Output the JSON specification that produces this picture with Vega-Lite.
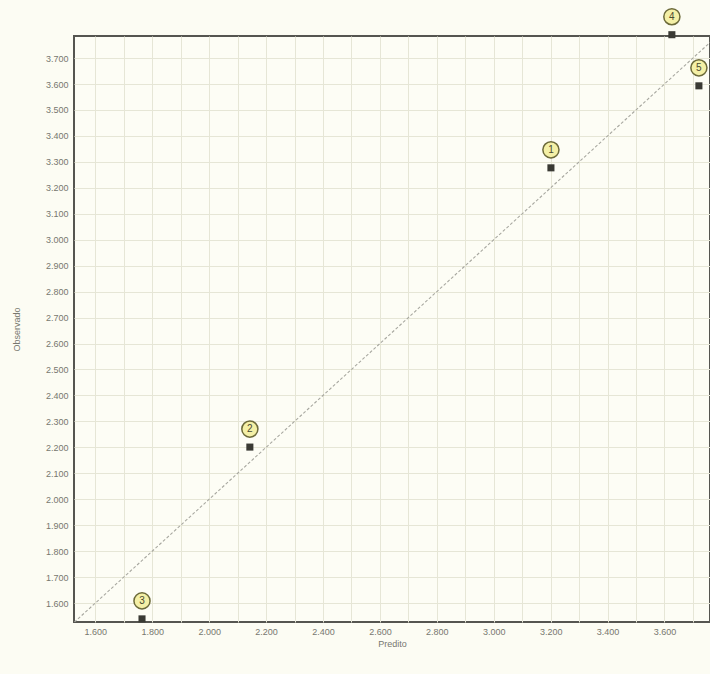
{
  "$schema": "https://vega.github.io/schema/vega-lite/v6.json",
  "width": 636,
  "height": 586,
  "autosize": "none",
  "padding": {"left": 74, "top": 36, "right": 0, "bottom": 52},
  "background": "#fcfcf3",
  "config": {
    "view": {"stroke": "#555550", "strokeWidth": 2, "fill": "#fdfdf5"},
    "font": "Liberation Sans",
    "axis": {
      "gridColor": "#e6e6d6",
      "gridWidth": 1,
      "domain": false,
      "ticks": false,
      "labelColor": "#77776f",
      "labelFontSize": 9,
      "labelOverlap": false,
      "labelFlush": false,
      "titleColor": "#77776f",
      "titleFontSize": 9,
      "titleFontWeight": "normal"
    }
  },
  "datasets": {
    "pts": [
      {"id": "1", "pred": 3201, "obs": 3277},
      {"id": "2", "pred": 2143, "obs": 2201},
      {"id": "3", "pred": 1764, "obs": 1539},
      {"id": "4", "pred": 3626, "obs": 3790},
      {"id": "5", "pred": 3721, "obs": 3593}
    ],
    "diag": [
      {"pred": 1500, "obs": 1500},
      {"pred": 3800, "obs": 3800}
    ]
  },
  "encoding": {
    "x": {
      "field": "pred", "type": "quantitative",
      "scale": {"domain": [1525, 3760], "nice": false, "zero": false},
      "axis": {
        "title": "Predito",
        "values": [1600,1700,1800,1900,2000,2100,2200,2300,2400,2500,2600,2700,2800,2900,3000,3100,3200,3300,3400,3500,3600,3700],
        "labelExpr": "datum.value % 200 == 0 ? replace(format(datum.value, ','), ',', '.') : ''",
        "labelOverlap": false,
        "labelPadding": 5,
        "titlePadding": 3
      }
    },
    "y": {
      "field": "obs", "type": "quantitative",
      "scale": {"domain": [1527, 3785], "nice": false, "zero": false},
      "axis": {
        "title": "Observado",
        "values": [1600,1700,1800,1900,2000,2100,2200,2300,2400,2500,2600,2700,2800,2900,3000,3100,3200,3300,3400,3500,3600,3700],
        "labelExpr": "replace(format(datum.value, ','), ',', '.')",
        "labelOverlap": false,
        "labelPadding": 6,
        "titlePadding": 24
      }
    }
  },
  "layer": [
    {
      "data": {"name": "diag"},
      "mark": {"type": "line", "color": "#a8a8a0", "strokeWidth": 1.1, "strokeDash": [3, 2], "clip": true}
    },
    {
      "data": {"name": "pts"},
      "mark": {"type": "point", "shape": "square", "filled": true, "color": "#3a3a34", "opacity": 1, "size": 50, "clip": false}
    },
    {
      "data": {"name": "pts"},
      "mark": {"type": "point", "shape": "circle", "filled": true, "fill": "#f4f0a6", "stroke": "#6c6a3a", "strokeWidth": 1.5, "size": 260, "yOffset": -18, "opacity": 1, "clip": false}
    },
    {
      "data": {"name": "pts"},
      "mark": {"type": "text", "fontSize": 10, "color": "#4a4a30", "yOffset": -18, "baseline": "middle", "align": "center"},
      "encoding": {
        "text": {"field": "id"}
      }
    }
  ]
}
